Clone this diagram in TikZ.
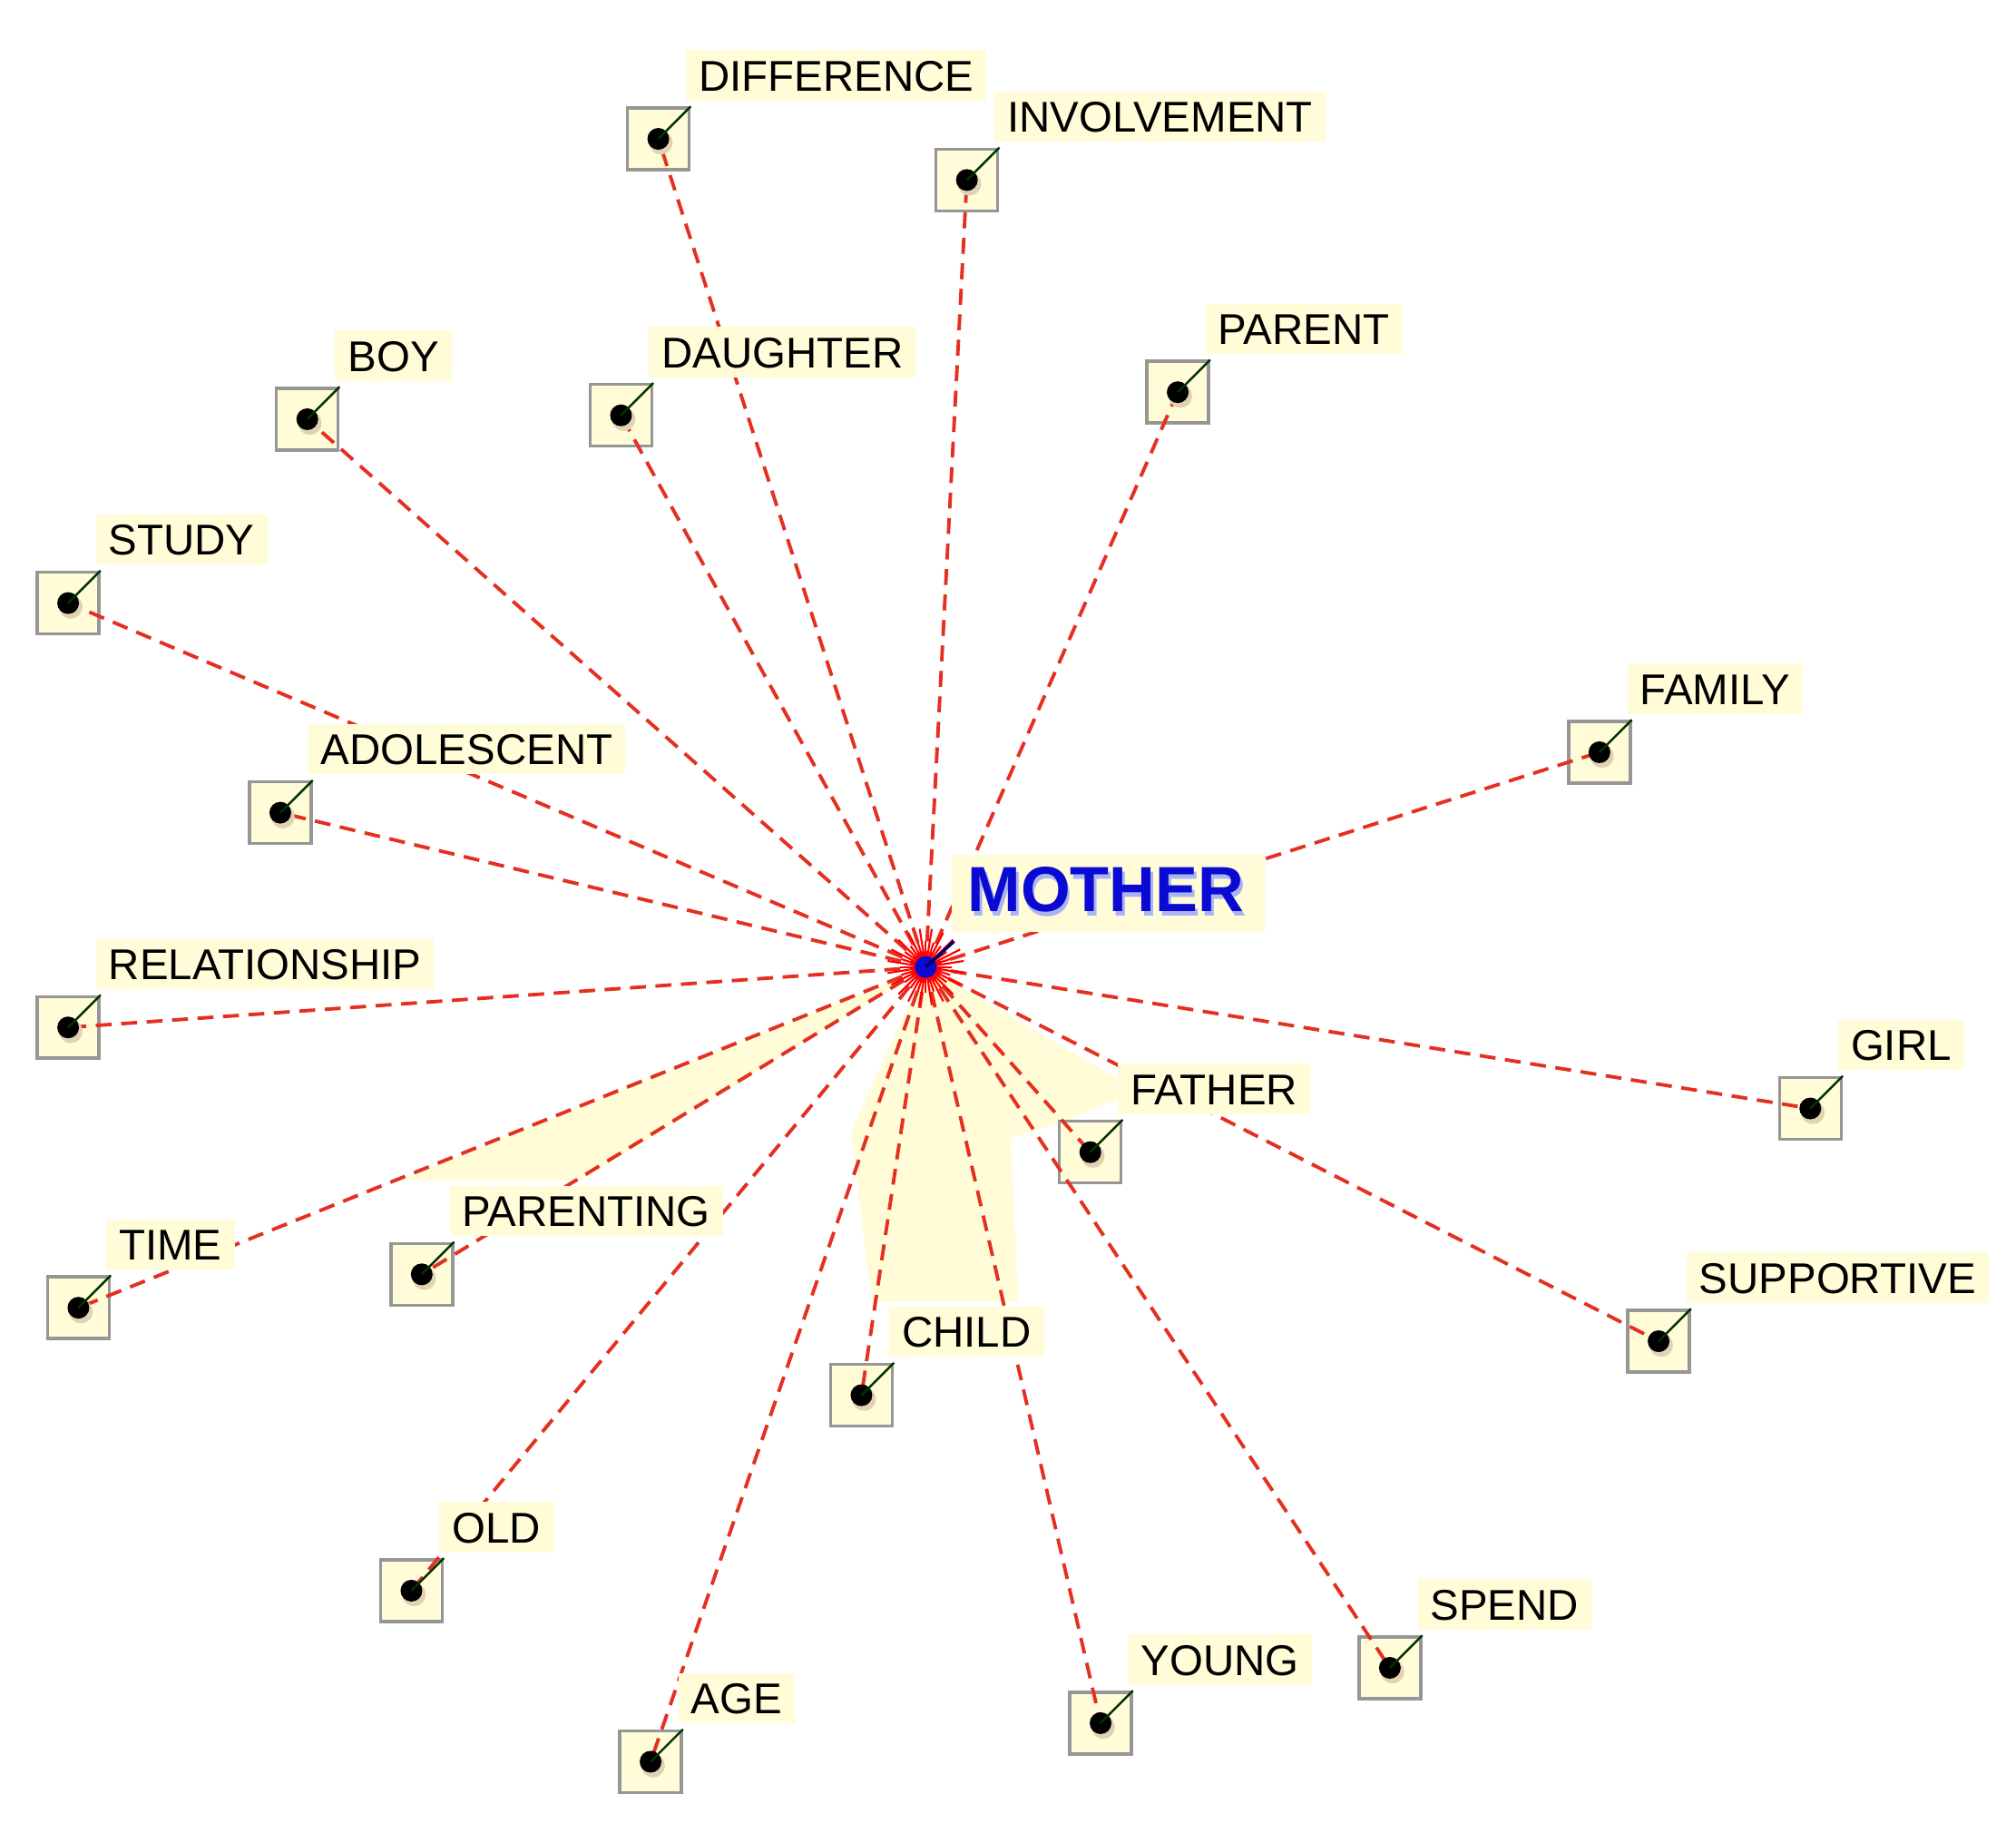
\documentclass[tikz,border=0pt]{standalone}
\usepackage{fontspec}
\setmainfont{Liberation Sans}
\usepackage{tikz}
\usetikzlibrary{calc}

\definecolor{linkred}{RGB}{228,48,32}
\definecolor{paper}{RGB}{255,252,215}
\definecolor{hubblue}{RGB}{10,10,210}
\definecolor{hubshade}{RGB}{170,180,245}
\definecolor{boxgray}{RGB}{150,150,150}
\definecolor{dotshade}{RGB}{225,210,180}

\tikzset{
  termbox/.style={draw=boxgray, line width=1pt, fill=paper, minimum size=0.68cm, inner sep=0pt},
  link/.style={draw=linkred, line width=1.1pt, dash pattern=on 5pt off 3pt},
  tick/.style={draw=black!80!green, line width=0.7pt},
  tag/.style={fill=paper, font=\fontsize{13.5}{14}\selectfont, text height=9.8pt, text depth=0pt,
    inner xsep=0.14cm, inner ysep=3pt, anchor=south west},
  hubtag/.style={font=\fontsize{20}{22}\selectfont\bfseries, inner xsep=0.2cm, inner ysep=5pt},
}

\def\terms{difference/512/108/DIFFERENCE, involvement/752/140/INVOLVEMENT,
  parent/916/305/PARENT, boy/239/326/BOY, daughter/483/323/DAUGHTER,
  study/53/469/STUDY, adolescent/218/632/ADOLESCENT, family/1244/585/FAMILY,
  relationship/53/799/RELATIONSHIP, girl/1408/862/GIRL, father/848/896/FATHER,
  time/61/1017/TIME, parenting/328/991/PARENTING, supportive/1290/1043/SUPPORTIVE,
  child/670/1085/CHILD, old/320/1237/OLD, spend/1081/1297/SPEND,
  young/856/1340/YOUNG, age/506/1370/AGE}

\begin{document}
\begin{tikzpicture}[x=0.01417cm, y=-0.01417cm]
  \useasboundingbox (0,0) rectangle (1568,1425);

  % pale patches below the hub
  \fill[paper] (720,752) -- (310,918) -- (452,918) -- cycle;
  \fill[paper] (720,752) -- (662,880) -- (678,1012) -- (792,1012) -- (786,885)
    -- (828,872) -- (885,848) -- cycle;

  \node[circle, fill=hubblue, minimum size=0.24cm, inner sep=0pt] (hub) at (720,752) {};

  % boxes first
  \foreach \nm/\px/\py/\txt in \terms {
    \node[termbox] (\nm) at (\px,\py) {};
  }

  % links
  \foreach \nm/\px/\py/\txt in \terms {
    \draw[link] (hub.center) -- (\nm.center);
  }
  \foreach \a in {0,9,...,351}
    \draw[red, line width=0.6pt] (hub.center) -- ++(\a:{20+10*mod(\a/9,2)});

  % dots and labels
  \foreach \nm/\px/\py/\txt in \terms {
    \fill[dotshade] ([shift={(2,3)}]\nm.center) circle (0.13cm);
    \fill[black] (\nm.center) circle (0.12cm);
    \draw[tick] (\nm.center) -- (\nm.north east);
    \node[tag] (\nm-tag) at ([shift={(-4,-4)}]\nm.north east) {\txt};
  }

  \fill[hubblue] (hub.center) circle (0.12cm);
  \draw[black!60!blue, line width=1pt] (hub.center) -- ++(22,-20);
  \node[hubtag, fill=paper, text=hubshade] (mothershade) at (862,695) {MOTHER};
  \node[hubtag, text=hubblue] (mother) at (860,692) {MOTHER};
\end{tikzpicture}
\end{document}
